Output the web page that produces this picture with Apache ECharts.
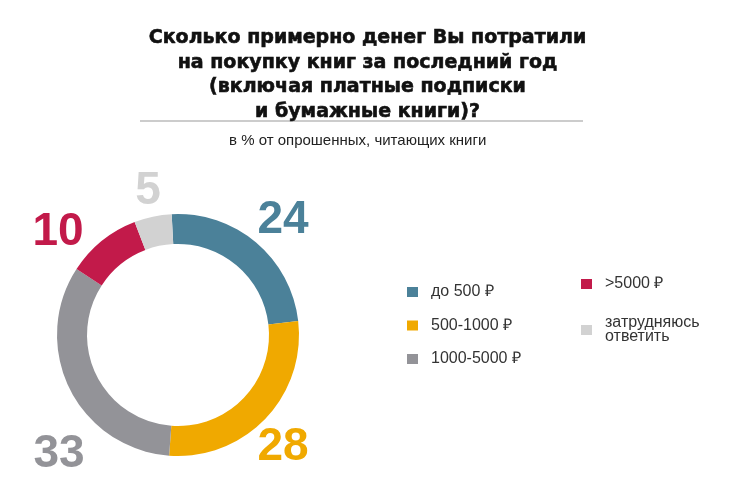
<!DOCTYPE html>
<html>
<head>
<meta charset="utf-8">
<script src="https://cdn.jsdelivr.net/npm/echarts@6/dist/echarts.min.js"></script>
<style>
  html, body { margin: 0; padding: 0; background: #fff; }
  #chart { width: 735px; height: 504px; }
</style>
</head>
<body>
<div id="chart"></div>
<script>
const categories = ['до 500 ₽', '500-1000 ₽', '1000-5000 ₽', '>5000 ₽', 'затрудняюсь ответить']
const values = [24, 28, 33, 10, 5]
const colors = ['#4b8199', '#f0a900', '#939398', '#c21a4a', '#d2d2d2']
const titleText = 'Сколько примерно денег Вы потратили\nна покупку книг за последний год\n(включая платные подписки\nи бумажные книги)?'
const subtitleText = 'в % от опрошенных, читающих книги'

// where the big numbers sit (the original puts them in the corners, not radially)
const labelAnchor = [[283, 220], [283, 447], [59, 454], [58, 232], [148, 191]]

const chart = echarts.init(document.getElementById('chart'))

const legendText = { fontFamily: 'Liberation Sans', fontSize: 16, lineHeight: 16, color: '#333', padding: [0, 0, 0, 8] }
const legendBase = {
  orient: 'vertical',
  icon: 'rect',
  itemWidth: 11,
  itemHeight: 10,
  itemGap: 17.5,
  selectedMode: false,
  textStyle: legendText
}

const option = {
  backgroundColor: '#fff',
  color: colors,
  title: [
    {
      text: titleText,
      left: 'center',
      top: 21,
      textStyle: {
        fontFamily: 'DejaVu Sans', fontWeight: 'bold', fontSize: 19, lineHeight: 24.5,
        color: '#111', textBorderColor: '#111', textBorderWidth: 0.6
      }
    },
    {
      text: subtitleText,
      left: 224,
      top: 128,
      textStyle: { fontFamily: 'Liberation Sans', fontWeight: 'normal', fontSize: 15, color: '#222' }
    }
  ],
  graphic: [{
    type: 'line',
    shape: { x1: 140, y1: 121, x2: 583, y2: 121 },
    style: { stroke: '#999', lineWidth: 1 }
  }],
  legend: [
    Object.assign({}, legendBase, { left: 402, top: 279, data: categories.slice(0, 3) }),
    Object.assign({}, legendBase, { left: 576, top: 271, data: categories.slice(3, 4) }),
    Object.assign({}, legendBase, {
      left: 576, top: 304, data: categories.slice(4),
      formatter: name => name.replace(' ', '\n'),
      textStyle: Object.assign({}, legendText, { lineHeight: 14, padding: [14, 0, 0, 8] })
    })
  ],
  series: [{
    type: 'pie',
    center: [178, 335],
    radius: [91, 121],
    startAngle: 93,
    clockwise: true,
    silent: true,
    label: {
      show: true,
      position: 'outside',
      formatter: '{c}',
      fontFamily: 'Liberation Sans',
      fontWeight: 'bold',
      fontSize: 46,
      overflow: 'none'
    },
    labelLine: { show: false },
    labelLayout: params => {
      const p = labelAnchor[params.dataIndex]
      return { x: p[0], y: p[1], align: 'center', verticalAlign: 'middle' }
    },
    data: categories.map((name, i) => ({
      name: name,
      value: values[i],
      label: { color: colors[i] }
    }))
  }]
}

chart.setOption(option)
</script>
</body>
</html>
